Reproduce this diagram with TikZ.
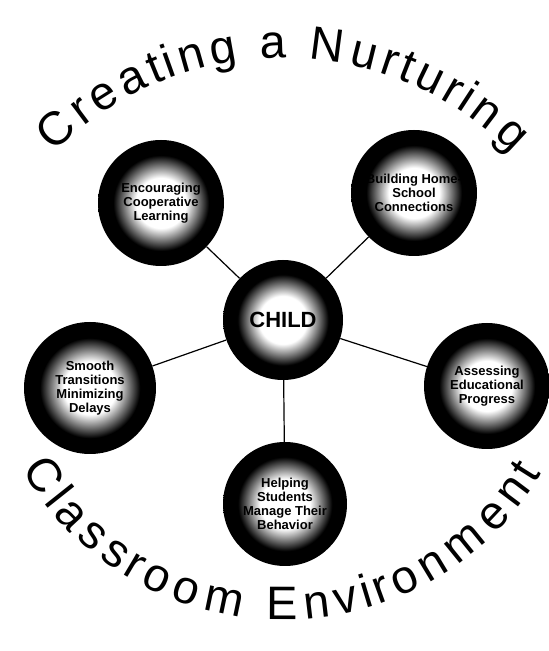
\documentclass[tikz,border=0pt]{standalone}
\usepackage{fontspec}
\setmainfont{Liberation Sans}
\setsansfont{Liberation Sans}
\usetikzlibrary{decorations.text}
\pgfdeclareradialshading{glow}{\pgfpoint{0bp}{0bp}}{color(0bp)=(white); color(10bp)=(white); color(19bp)=(black); color(50bp)=(black)}
\tikzset{ball/.style={circle, shade, shading=glow, inner sep=0pt, minimum size=126pt, align=center,
    font=\sffamily\bfseries\fontsize{13}{14}\selectfont},
  lnk/.style={line width=1.2pt},
  arcword/.style={decorate, decoration={text effects along path, text={#1},
    text effects/.cd, text along path, fit text to path, characters={font=\arcsize}}}}
\newcommand\arcsize{\fontsize{47}{50}\selectfont}

\begin{document}
\begin{tikzpicture}[x=1pt,y=1pt]
  \useasboundingbox (0,0) rectangle (549,651);
  \coordinate (o) at (283,333);
  \coordinate (ot) at (283,269);
  \node[ball, minimum size=120pt, font=\sffamily\bfseries\fontsize{22}{24}\selectfont] (c) at (283,331) {CHILD};
  \node[ball] (coop) at (161,448) {Encouraging\\Cooperative\\Learning};
  \node[ball] (home) at (414,458) {Building Home-\\School\\Connections};
  \node[ball, minimum size=132pt] (trans) at (90,263) {Smooth\\Transitions\\Minimizing\\Delays};
  \node[ball] (prog) at (487,265) {Assessing\\Educational\\Progress};
  \node[ball, minimum size=124pt] (behav) at (285,147) {Helping\\Students\\Manage Their\\Behavior};
  \foreach \n in {coop,home,trans,prog,behav}
    \draw[lnk] (c) -- (\n);
  % titles bent round the cluster
  \path[arcword={Creating a Nurturing}]
    ([shift={(135:324)}]ot) arc[start angle=135, end angle=45, radius=324];
  \path[arcword={Classroom Environment}]
    ([shift={(210:302)}]o) arc[start angle=210, end angle=329, radius=302];
\end{tikzpicture}
\end{document}
